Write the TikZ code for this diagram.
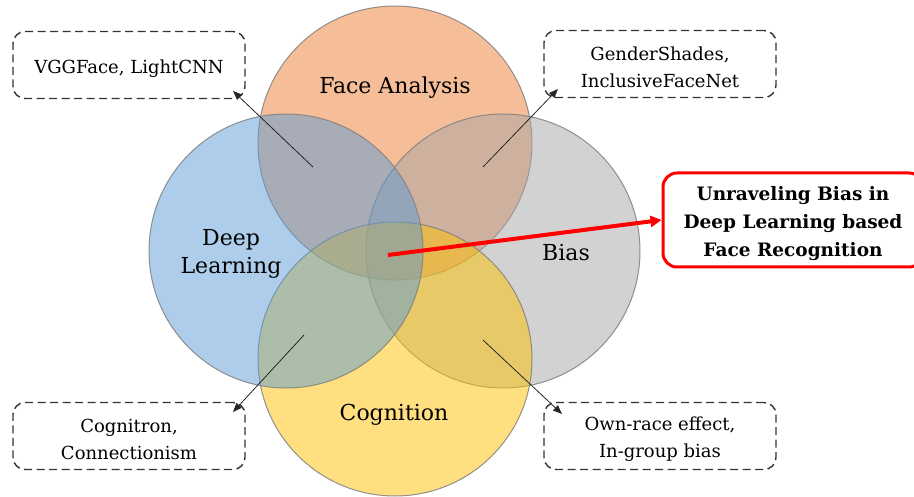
\documentclass[tikz,border=0pt]{standalone}
\usepackage{fontspec}
\setmainfont{DejaVu Serif}
\usetikzlibrary{arrows.meta}
\definecolor{cfa}{HTML}{ED7D31}
\definecolor{cdl}{HTML}{5B9BD5}
\definecolor{cbi}{HTML}{A5A5A5}
\definecolor{ccg}{HTML}{FFC000}
\definecolor{rimgray}{HTML}{7F7F7F}
\newcommand{\pushdown}{\rule{0pt}{20pt}}
\tikzset{
  venn/.style={circle, inner sep=0pt, minimum size=274pt, fill opacity=0.5, draw=rimgray, draw opacity=0.85, line width=1pt},
  lbl/.style={font=\fontsize{22}{28}\selectfont, align=center, inner sep=0pt},
  dbox/.style={draw=black!80, line width=1.4pt, dash pattern=on 8pt off 4.5pt, rounded corners=12pt, minimum width=232pt, minimum height=67pt, align=center, font=\fontsize{18}{27}\selectfont, inner sep=0pt},
  tbox/.style={draw=red, line width=3pt, rounded corners=14pt, fill=white, minimum width=260pt, minimum height=94pt, align=center, font=\fontsize{18.5}{28}\selectfont\bfseries, inner sep=0pt},
  thin/.style={draw=black!85, line width=0.8pt, -{Triangle[length=9pt,width=7pt]}}
}
\begin{document}
\begin{tikzpicture}[x=1pt,y=-1pt]
\useasboundingbox (0,0) rectangle (914,497);
\clip (0,0) rectangle (914,497);
% circles in drawing order
\node[venn, fill=cfa] (fa) at (395,143) {};
\node[venn, fill=cbi] (bi) at (503,251) {};
\node[venn, fill=ccg] (cg) at (395,359) {};
\node[venn, fill=cdl] (dl) at (286,251) {};
% labels
\node[lbl] (lfa) at (395,88) {Face Analysis};
\node[lbl] (ldl) at (231,254) {Deep\\Learning};
\node[lbl] (lbi) at (566,253) {Bias};
\node[lbl] (lcg) at (394,415) {Cognition};
% dashed boxes
\node[dbox] (b1) at (129,65) {\rule{0pt}{22pt}VGGFace, LightCNN};
\node[dbox] (b2) at (660,64) {\pushdown GenderShades,\\InclusiveFaceNet};
\node[dbox] (b3) at (129,436) {\pushdown Cognitron,\\Connectionism};
\node[dbox] (b4) at (660,436) {\pushdown Own-race effect,\\In-group bias};
% title
\node[tbox] (t) at (793,220) {\rule{0pt}{21pt}Unraveling Bias in\\Deep Learning based\\Face Recognition};
% arrow endpoints
\coordinate (s1) at (313,167);
\coordinate (e1) at (233,91);
\coordinate (s2) at (483,167);
\coordinate (e2) at (558,89);
\coordinate (s3) at (304,335);
\coordinate (e3) at (233,412);
\coordinate (s4) at (483,340);
\coordinate (e4) at (562,414);
\coordinate (sc) at (388,255);
\draw[thin] (s1) -- (e1);
\draw[thin] (s2) -- (e2);
\draw[thin] (s3) -- (e3);
\draw[thin] (s4) -- (e4);
\draw[red, line width=4pt, -{Triangle[length=11pt,width=11pt]}] (sc) -- (t.west);
\end{tikzpicture}
\end{document}
